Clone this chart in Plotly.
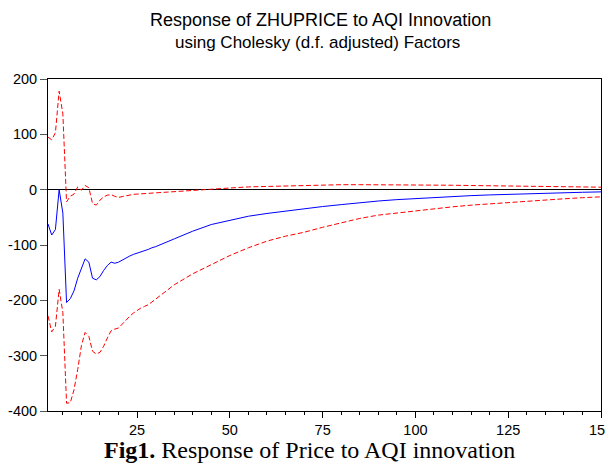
import plotly.graph_objects as go

periods = list(range(1, 31)) + list(range(35, 151, 5))

response = [-62, -82, -72, 0, -42, -204, -197, -183, -160, -142,
            -125, -131, -160, -163, -157, -146, -137, -131, -133, -131,
            -127, -123, -120, -117, -115, -113, -111, -108, -105, -103,
            -89, -75, -63, -55.5, -48, -43, -38.5, -34.5, -30.5, -27,
            -23.5, -20.5, -18, -16, -14, -12.3, -10.8, -9.5, -8.3, -7.2,
            -6.2, -5.4, -4.7, -4]

upper = [95, 90, 103, 178, 137, -22, -12, -8, 5, -1,
         7.5, 3.5, -25, -28, -19, -13, -10, -9, -12, -14,
         -12.5, -11, -9.5, -8.5, -8, -7.5, -7, -6.5, -6, -5.5,
         -3.5, -1.2, 1, 3, 5, 6, 7, 8, 8.5, 9,
         9, 9, 9, 8.5, 8, 8, 7.5, 7, 6.5, 6,
         5.5, 5, 4.8, 4.5]

lower = [-228, -257, -247, -180, -222, -386, -385, -362, -325, -282,
         -258, -265, -292, -297, -294, -283, -268, -255, -252, -250,
         -243, -235, -229, -223, -218, -214, -211, -208, -203, -198,
         -172, -152, -135, -119, -105, -93, -84, -77, -68, -60,
         -52, -46, -42, -38, -34.5, -31, -28, -25.5, -23, -21,
         -18.5, -16.5, -14.5, -13]

y_ticks = [-400, -300, -200, -100, 0, 100, 200]
y_tick_labels = ["-400", "-300", "-200", "-100", "0", "100", "200"]
x_ticks = [25, 50, 75, 100, 125, 150]
x_tick_labels = ["25", "50", "75", "100", "125", "150"]

title_line1 = "Response of ZHUPRICE to AQI Innovation"
title_line2 = "using Cholesky (d.f. adjusted) Factors"
caption = "<b>Fig1.</b> Response of Price to AQI innovation"

sans = "Liberation Sans, Arial, sans-serif"
serif = "Liberation Serif, Times New Roman, serif"

fig = go.Figure()
fig.add_trace(go.Scatter(x=periods, y=upper, mode="lines",
                         line=dict(color="#FF0000", width=1, dash="5px,2.5px"),
                         showlegend=False))
fig.add_trace(go.Scatter(x=periods, y=lower, mode="lines",
                         line=dict(color="#FF0000", width=1, dash="5px,2.5px"),
                         showlegend=False))
fig.add_trace(go.Scatter(x=periods, y=response, mode="lines",
                         line=dict(color="#0000FF", width=1),
                         showlegend=False))

fig.update_layout(
    width=613, height=460,
    margin=dict(l=40, r=20, t=71, b=57),
    paper_bgcolor="white", plot_bgcolor="white",
    font=dict(family=sans, size=14.5, color="black"),
    xaxis=dict(range=[1, 150], tickvals=x_ticks, ticktext=x_tick_labels,
               ticks="outside", ticklen=6,
               ticklabeloverflow="allow",
               tickcolor="black", showline=True, linecolor="black", linewidth=1,
               mirror=True, showgrid=False, zeroline=False, automargin=False,
               minor=dict(dtick=5, tick0=0, ticks="outside", ticklen=3,
                          tickcolor="black", showgrid=False),
               tickfont=dict(size=14.5)),
    yaxis=dict(range=[-400, 200], tickvals=y_ticks, ticktext=y_tick_labels,
               ticks="outside", ticklen=7, ticklabeloverflow="allow",
               tickcolor="#555555", showline=True, linecolor="black", linewidth=1,
               mirror=True, showgrid=False, zeroline=True, zerolinecolor="black",
               zerolinewidth=1, automargin=False, tickfont=dict(size=14.5)),
    annotations=[
        dict(text=title_line1, xref="paper", yref="paper", x=0.492, y=1.178,
             xanchor="center", yanchor="middle", showarrow=False,
             font=dict(family=sans, size=18, color="black")),
        dict(text=title_line2, xref="paper", yref="paper", x=0.487, y=1.111,
             xanchor="center", yanchor="middle", showarrow=False,
             font=dict(family=sans, size=17, color="black")),
        dict(text=caption, xref="paper", yref="paper", x=0.472, y=-0.116,
             xanchor="center", yanchor="middle", showarrow=False,
             font=dict(family=serif, size=24, color="black")),
    ],
)

fig.write_html("out.html")
